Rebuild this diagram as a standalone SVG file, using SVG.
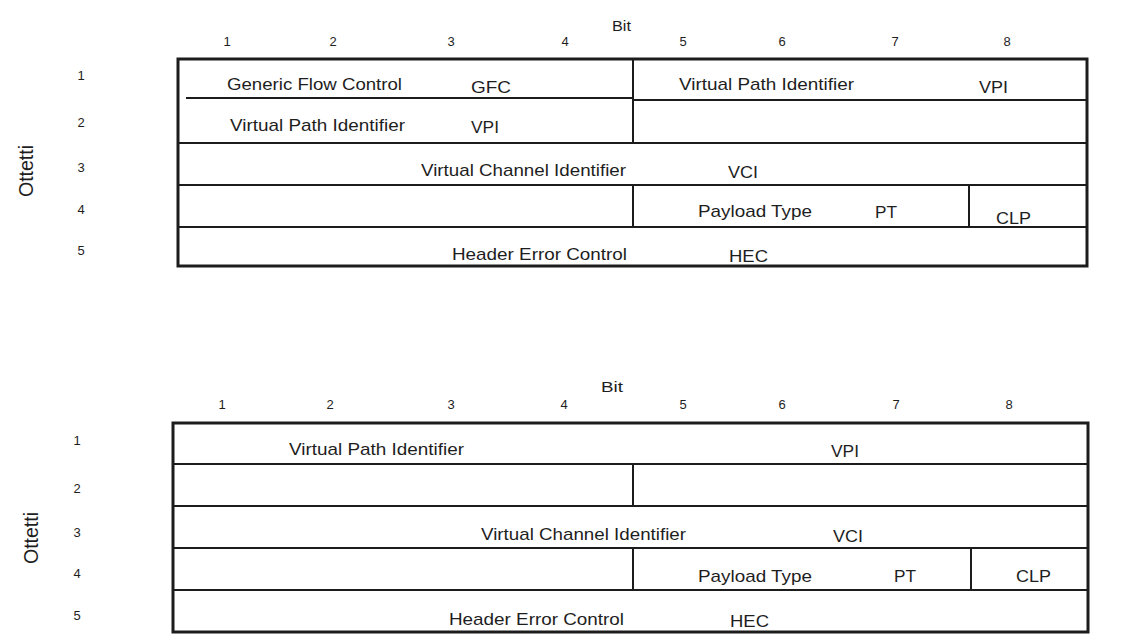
<svg xmlns="http://www.w3.org/2000/svg" width="1126" height="641" viewBox="0 0 1126 641">
<style>
.frame{fill:none;stroke:#1c1c1c;stroke-width:3}
.ln{stroke:#1c1c1c;stroke-width:2;fill:none}
text{font-family:"Liberation Sans",Arial,sans-serif;fill:#1e1e1e}
.f{font-size:17px}
.n{font-size:13px;text-anchor:middle}
.b{font-size:14px}
.o{font-size:20px;text-anchor:middle}
</style>
<rect width="1126" height="641" fill="#ffffff"/>

<g id="header-uni">
  <g id="uni-axes">
    <text class="b" x="612" y="31" textLength="19" lengthAdjust="spacingAndGlyphs">Bit</text>
    <text class="n" x="227" y="46">1</text>
    <text class="n" x="333" y="46">2</text>
    <text class="n" x="451" y="46">3</text>
    <text class="n" x="565" y="46">4</text>
    <text class="n" x="683" y="46">5</text>
    <text class="n" x="782" y="46">6</text>
    <text class="n" x="895" y="46">7</text>
    <text class="n" x="1007" y="46">8</text>
    <text class="n" x="81" y="80">1</text>
    <text class="n" x="81" y="127">2</text>
    <text class="n" x="81" y="172">3</text>
    <text class="n" x="81" y="214">4</text>
    <text class="n" x="81" y="255">5</text>
    <text class="o" x="0" y="0" transform="translate(33 171) rotate(-90)" textLength="52" lengthAdjust="spacingAndGlyphs">Ottetti</text>
  </g>
  <g id="uni-frame">
    <rect class="frame" x="178" y="59" width="909" height="207"/>
    <path class="ln" d="M186,98 H633 M633,100 H1087 M178,143 H1087 M178,185 H1087 M178,227 H1087 M633,59 V143 M633,185 V227 M969,185 V227"/>
  </g>
  <g id="uni-gfc">
    <text class="f" x="227" y="90" textLength="175" lengthAdjust="spacingAndGlyphs">Generic Flow Control</text>
    <text class="f" x="471" y="93" textLength="40" lengthAdjust="spacingAndGlyphs">GFC</text>
  </g>
  <g id="uni-vpi">
    <text class="f" x="679" y="90" textLength="175" lengthAdjust="spacingAndGlyphs">Virtual Path Identifier</text>
    <text class="f" x="979" y="93" textLength="29" lengthAdjust="spacingAndGlyphs">VPI</text>
    <text class="f" x="230" y="131" textLength="175" lengthAdjust="spacingAndGlyphs">Virtual Path Identifier</text>
    <text class="f" x="471" y="133" textLength="28" lengthAdjust="spacingAndGlyphs">VPI</text>
  </g>
  <g id="uni-vci">
    <text class="f" x="421" y="176" textLength="205" lengthAdjust="spacingAndGlyphs">Virtual Channel Identifier</text>
    <text class="f" x="728" y="178" textLength="30" lengthAdjust="spacingAndGlyphs">VCI</text>
  </g>
  <g id="uni-pt">
    <text class="f" x="698" y="217" textLength="114" lengthAdjust="spacingAndGlyphs">Payload Type</text>
    <text class="f" x="875" y="218" textLength="22" lengthAdjust="spacingAndGlyphs">PT</text>
  </g>
  <g id="uni-clp">
    <text class="f" x="996" y="224" textLength="35" lengthAdjust="spacingAndGlyphs">CLP</text>
  </g>
  <g id="uni-hec">
    <text class="f" x="452" y="260" textLength="175" lengthAdjust="spacingAndGlyphs">Header Error Control</text>
    <text class="f" x="729" y="262" textLength="39" lengthAdjust="spacingAndGlyphs">HEC</text>
  </g>
</g>

<g id="header-nni">
  <g id="nni-axes">
    <text class="b" x="601" y="392" textLength="22" lengthAdjust="spacingAndGlyphs">Bit</text>
    <text class="n" x="222" y="409">1</text>
    <text class="n" x="330" y="409">2</text>
    <text class="n" x="451" y="409">3</text>
    <text class="n" x="564" y="409">4</text>
    <text class="n" x="683" y="409">5</text>
    <text class="n" x="782" y="409">6</text>
    <text class="n" x="896" y="409">7</text>
    <text class="n" x="1009" y="409">8</text>
    <text class="n" x="77" y="445">1</text>
    <text class="n" x="77" y="493">2</text>
    <text class="n" x="77" y="537">3</text>
    <text class="n" x="77" y="578">4</text>
    <text class="n" x="77" y="620">5</text>
    <text class="o" x="0" y="0" transform="translate(38 538) rotate(-90)" textLength="52" lengthAdjust="spacingAndGlyphs">Ottetti</text>
  </g>
  <g id="nni-frame">
    <rect class="frame" x="173" y="423" width="915" height="209"/>
    <path class="ln" d="M173,464 H1088 M173,506 H1088 M173,548 H1088 M173,590 H1088 M633,464 V506 M633,548 V590 M971,548 V590"/>
  </g>
  <g id="nni-vpi">
    <text class="f" x="289" y="455" textLength="175" lengthAdjust="spacingAndGlyphs">Virtual Path Identifier</text>
    <text class="f" x="831" y="457" textLength="28" lengthAdjust="spacingAndGlyphs">VPI</text>
  </g>
  <g id="nni-vci">
    <text class="f" x="481" y="540" textLength="205" lengthAdjust="spacingAndGlyphs">Virtual Channel Identifier</text>
    <text class="f" x="833" y="542" textLength="30" lengthAdjust="spacingAndGlyphs">VCI</text>
  </g>
  <g id="nni-pt">
    <text class="f" x="698" y="582" textLength="114" lengthAdjust="spacingAndGlyphs">Payload Type</text>
    <text class="f" x="894" y="582" textLength="22" lengthAdjust="spacingAndGlyphs">PT</text>
  </g>
  <g id="nni-clp">
    <text class="f" x="1016" y="582" textLength="35" lengthAdjust="spacingAndGlyphs">CLP</text>
  </g>
  <g id="nni-hec">
    <text class="f" x="449" y="625" textLength="175" lengthAdjust="spacingAndGlyphs">Header Error Control</text>
    <text class="f" x="730" y="627" textLength="39" lengthAdjust="spacingAndGlyphs">HEC</text>
  </g>
</g>
</svg>
